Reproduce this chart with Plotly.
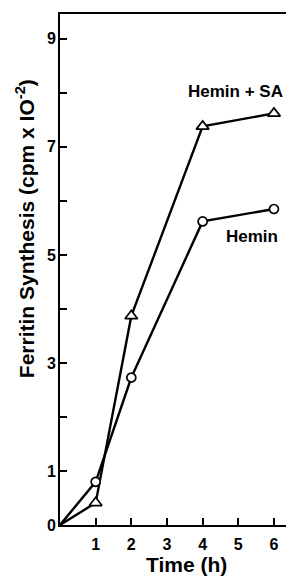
import plotly.graph_objects as go

time_h = [0, 1, 2, 4, 6]
hemin = [0, 0.80, 2.73, 5.62, 5.85]
hemin_sa = [0, 0.41, 3.87, 7.38, 7.62]

y_tickvals = [0, 1, 3, 5, 7, 9]
y_ticktext = ["0", "1", "3", "5", "7", "9"]
x_tickvals = [1, 2, 3, 4, 5, 6]
x_ticktext = ["1", "2", "3", "4", "5", "6"]

FONT = "Liberation Sans"
fig = go.Figure()
for vals in (hemin_sa, hemin):
    fig.add_trace(go.Scatter(x=time_h, y=vals, mode="lines",
                             line=dict(color="black", width=2.4), showlegend=False,
                             hoverinfo="skip"))
fig.add_trace(go.Scatter(x=time_h[1:], y=hemin_sa[1:], mode="markers",
                         marker=dict(symbol="triangle-up", size=11, color="white",
                                     line=dict(width=1.7, color="black")),
                         showlegend=False))
fig.add_trace(go.Scatter(x=time_h[1:], y=hemin[1:], mode="markers",
                         marker=dict(symbol="circle", size=9, color="white",
                                     line=dict(width=1.7, color="black")),
                         showlegend=False))

fig.update_layout(
    width=286, height=569,
    margin=dict(l=52, r=4, t=6, b=52),
    paper_bgcolor="white", plot_bgcolor="white",
    font=dict(family=FONT, color="black", size=16),
    xaxis=dict(range=[0, 6.45], tickvals=x_tickvals, ticktext=x_ticktext,
               ticks="inside", ticklen=7, tickwidth=2, tickcolor="black",
               showline=True, linecolor="black", linewidth=2, mirror=True,
               showgrid=False, zeroline=False, ticklabelstandoff=4,
               tickfont=dict(family=FONT, size=16, weight="bold")),
    yaxis=dict(range=[0, 9.46], tickvals=y_tickvals, ticktext=y_ticktext,
               ticks="inside", ticklen=7, tickwidth=2, tickcolor="black",
               minor=dict(tickvals=[2, 4, 6, 8], ticks="inside", ticklen=7,
                          tickwidth=2, tickcolor="black"),
               showline=True, linecolor="black", linewidth=2,
               showgrid=False, zeroline=False, ticklabelstandoff=-1,
               tickfont=dict(family=FONT, size=16, weight="bold")),
    annotations=[
        dict(text="Time (h)", xref="paper", yref="paper", x=0.55, y=-0.078,
             xanchor="center", yanchor="middle", showarrow=False,
             font=dict(family=FONT, size=21, weight="bold")),
        dict(text="Ferritin Synthesis (cpm x IO<sup>-2</sup>)", xref="paper", yref="paper",
             x=-0.152, y=0.579, textangle=-90, xanchor="center", yanchor="middle",
             showarrow=False, font=dict(family=FONT, size=21, weight="bold")),
        dict(text="Hemin + SA", xref="paper", yref="paper", x=0.761,
             y=0.849, xanchor="center", yanchor="middle", showarrow=False,
             font=dict(family=FONT, size=17, weight="bold")),
        dict(text="Hemin", xref="paper", yref="paper", x=0.834,
             y=0.564, xanchor="center", yanchor="middle", showarrow=False,
             font=dict(family=FONT, size=17, weight="bold")),
    ],
)
fig.write_html("out.html")
